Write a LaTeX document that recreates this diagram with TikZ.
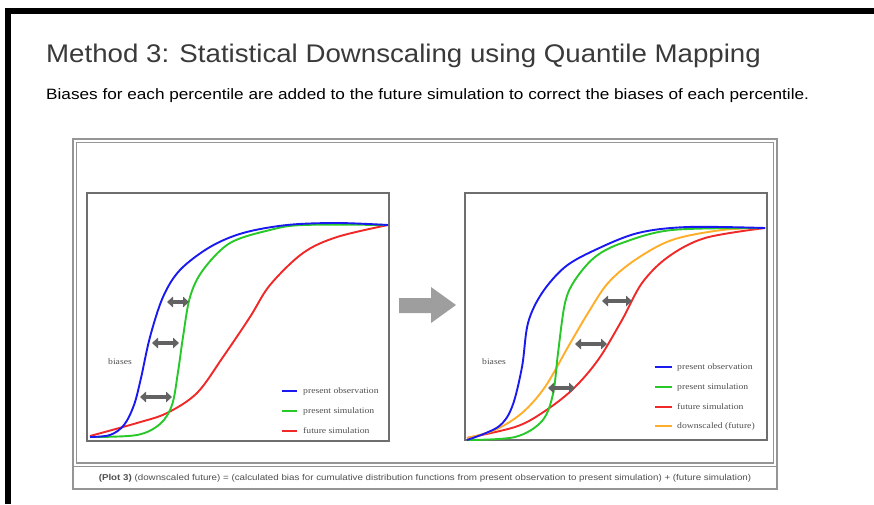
\documentclass[tikz,border=0pt]{standalone}
\usepackage{graphicx}
\usepackage{fontspec}
\setmainfont{Liberation Sans}
\newfontfamily\legendfont{Liberation Serif}
\usetikzlibrary{arrows.meta}

\definecolor{titlegray}{HTML}{3A3A3A}
\definecolor{framegray}{HTML}{959595}
\definecolor{boxgray}{HTML}{6E6E6E}
\definecolor{biasgray}{HTML}{626262}
\definecolor{blockgray}{HTML}{9E9E9E}
\definecolor{obsblue}{HTML}{1A1AF0}
\definecolor{simgreen}{HTML}{28C828}
\definecolor{futred}{HTML}{F02828}
\definecolor{dsorange}{HTML}{FFAE2A}
\definecolor{captiongray}{HTML}{505050}

% slightly widened lettering
\newcommand\widetext[1]{\scalebox{1.15}[1]{#1}}

\tikzset{
  cdf/.style={line width=1.9pt, smooth, tension=0.55},
  plotbox/.style={draw=boxgray, line width=1.4pt},
  framebox/.style={draw=framegray, line width=1.3pt},
  bias/.style={draw=biasgray, line width=3.8pt,
    {Triangle[length=6pt,width=10.5pt]}-{Triangle[length=6pt,width=10.5pt]}},
  legline/.style={line width=2.2pt},
  legtext/.style={anchor=west, inner sep=0, text=captiongray,
    font=\legendfont\fontsize{8.4}{9}\selectfont},
}

\begin{document}
\begin{tikzpicture}[x=1pt,y=-1pt]
\useasboundingbox (0,0) rectangle (874,504);
\fill[white] (0,0) rectangle (874,504);

% heavy page border, open to the right and bottom
\draw[black, line width=6pt, line join=miter] (8,504) -- (8,11) -- (874,11);

% headings
\node[anchor=base west, inner sep=0, text=titlegray,
      font=\fontsize{25.5}{30}\selectfont] (title) at (46,62)
  {\scalebox{1.085}[1]{Method 3: Statistical Downscaling using Quantile Mapping}};
\node[anchor=base west, inner sep=0, text=black,
      font=\fontsize{15}{18}\selectfont] (subtitle) at (46,99)
  {\scalebox{1.145}[1]{Biases for each percentile are added to the future simulation to correct the biases of each percentile.}};

% figure frame with caption strip
\draw[framebox] (73,139) rectangle (777,489);
\draw[framebox] (76.5,142.5) rectangle (773.5,463);
\draw[framebox] (73,466.5) -- (777,466.5);

% ---------- left panel ----------
\draw[plotbox] (87,193) rectangle (389,441);
\draw[cdf, futred] plot coordinates {(90,436) (137,423) (167,413) (197,393) (223,357) (250,317) (270,285) (303,253) (337,237) (388,225)};
\draw[cdf, simgreen] plot coordinates {(92,437) (137,435) (160,424) (172,405) (178,372) (183,337) (190,297) (203,270) (230,243) (270,230) (303,225) (388,225)};
\draw[cdf, obsblue] plot coordinates {(90,437) (110,435) (124,425) (134,405) (141,378) (150,337) (163,297) (180,270) (210,247) (243,233) (287,225) (337,223) (388,225)};

\draw[bias] (140,397) -- (172,397);
\draw[bias] (152,343) -- (179,343);
\draw[bias] (167,302) -- (189,302);
\node[legtext] (biasL) at (108,362) {\widetext{biases}};

\draw[legline, obsblue]  (282,391) -- (297,391);
\draw[legline, simgreen] (282,411) -- (297,411);
\draw[legline, futred]   (282,431) -- (297,431);
\node[legtext] (legL1) at (303,391) {\widetext{present observation}};
\node[legtext] (legL2) at (303,411) {\widetext{present simulation}};
\node[legtext] (legL3) at (303,431) {\widetext{future simulation}};

% ---------- transfer arrow ----------
\fill[blockgray] (399,298) -- (431,298) -- (431,287) -- (456,305) -- (431,323) -- (431,313) -- (399,313) -- cycle;

% ---------- right panel ----------
\draw[plotbox] (465,193) rectangle (767,440);
\draw[cdf, futred] plot coordinates {(467,438) (515,427) (542,413) (572,390) (598,360) (622,320) (642,283) (668,257) (705,238) (765,228)};
\draw[cdf, dsorange] plot coordinates {(467,438) (495,430) (522,413) (545,387) (568,347) (588,313) (608,283) (635,260) (672,240) (722,230) (765,228)};
\draw[cdf, simgreen] plot coordinates {(467,440) (515,437) (542,421) (553,394) (558,353) (565,303) (575,280) (595,257) (622,243) (672,230) (765,228)};
\draw[cdf, obsblue] plot coordinates {(467,440) (498,427) (512,407) (522,367) (528,323) (542,293) (565,267) (595,250) (638,233) (688,227) (765,228)};

\draw[bias] (548,388) -- (575,388);
\draw[bias] (575,344) -- (607,344);
\draw[bias] (602,301) -- (632,301);
\node[legtext] (biasR) at (482,362) {\widetext{biases}};

\draw[legline, obsblue]  (655,367) -- (672,367);
\draw[legline, simgreen] (655,387) -- (672,387);
\draw[legline, futred]   (655,407) -- (672,407);
\draw[legline, dsorange] (655,426) -- (672,426);
\node[legtext] (legR1) at (677,367) {\widetext{present observation}};
\node[legtext] (legR2) at (677,387) {\widetext{present simulation}};
\node[legtext] (legR3) at (677,407) {\widetext{future simulation}};
\node[legtext] (legR4) at (677,426) {\widetext{downscaled (future)}};

% caption
\node[inner sep=0, text=captiongray, font=\fontsize{8.5}{9}\selectfont] (caption) at (425,478)
  {\widetext{\textbf{(Plot 3)} (downscaled future) = (calculated bias for cumulative distribution functions from present observation to present simulation) + (future simulation)}};
\end{tikzpicture}
\end{document}
